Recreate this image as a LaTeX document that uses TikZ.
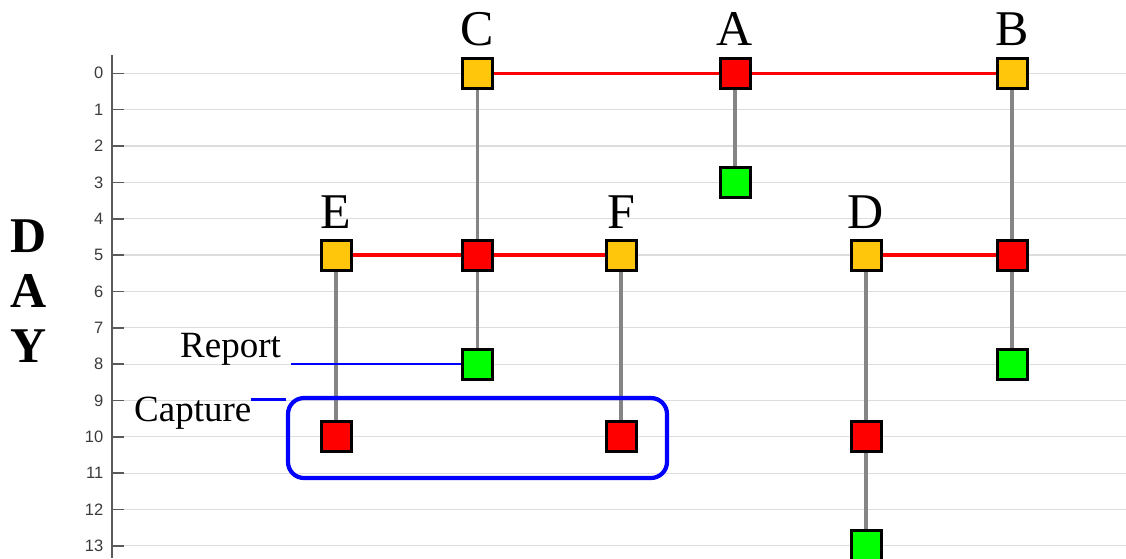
\documentclass[tikz,border=0pt]{standalone}
\usepackage{fontspec}
\setmainfont{Liberation Serif}
\newfontfamily\tickfont{Liberation Sans}
\definecolor{ylw}{HTML}{FFC60B}
\definecolor{rd}{HTML}{FF0000}
\definecolor{grn}{HTML}{00FF00}
\definecolor{gridc}{HTML}{DDDDDD}
\definecolor{axisc}{HTML}{5A5A5A}
\definecolor{tickc}{HTML}{3A3A3A}
\definecolor{linkc}{HTML}{858585}
\definecolor{blu}{HTML}{0000FF}
\begin{document}
\begin{tikzpicture}[x=1pt,y=-1pt,
  sq/.style={rectangle,draw=black,line width=3pt,minimum size=30pt,inner sep=0pt},
  yel/.style={sq,fill=ylw},
  red/.style={sq,fill=rd},
  gr/.style={sq,fill=grn},
  gridline/.style={draw=gridc,line width=1.2pt},
  axisline/.style={draw=axisc,line width=1.6pt},
  ticklbl/.style={anchor=east,inner sep=0pt,text=tickc,font=\tickfont\fontsize{16.5}{16.5}\selectfont},
  big/.style={anchor=base,inner sep=0pt,font=\fontsize{50}{50}\selectfont},
  bigb/.style={anchor=base,inner sep=0pt,font=\bfseries\fontsize{50}{50}\selectfont},
  note/.style={anchor=base west,inner sep=0pt,font=\fontsize{37}{37}\selectfont},
  redlink/.style={draw=rd,line width=3.2pt},
  graylink/.style={draw=linkc,line width=3.2pt},
  bluelink/.style={draw=blu,line width=2.5pt}]
\useasboundingbox (0,0) rectangle (1126,558);
\clip (0,0) rectangle (1126,558);
\def\dy{36.35}
\def\yz{73.3}
% grid and axis
\foreach \d in {0,...,13}{
  \pgfmathsetmacro{\yy}{\yz+\dy*\d}
  \draw[gridline] (124,\yy) -- (1126,\yy);
  \draw[axisline] (112,\yy) -- (124,\yy);
  \node[ticklbl] (t\d) at (103.5,\yy) {\d};
}
\draw[axisline] (112,55) -- (112,558);
% DAY label
\node[bigb] (dD) at (29,252) {D};
\node[bigb] (dA) at (29,307) {A};
\node[bigb] (dY) at (29,362) {Y};
% rows
\pgfmathsetmacro{\ya}{\yz}
\pgfmathsetmacro{\yb}{\yz+3*\dy}
\pgfmathsetmacro{\yc}{\yz+5*\dy}
\pgfmathsetmacro{\yd}{\yz+8*\dy}
\pgfmathsetmacro{\ye}{\yz+10*\dy}
\pgfmathsetmacro{\yf}{\yz+13*\dy}
\coordinate (pC0) at (477.5,\ya);
\coordinate (pA0) at (735,\ya);
\coordinate (pB0) at (1012,\ya);
\coordinate (pA3) at (735,\yb);
\coordinate (pE5) at (336,\yc);
\coordinate (pC5) at (477.5,\yc);
\coordinate (pF5) at (621,\yc);
\coordinate (pD5) at (866,\yc);
\coordinate (pB5) at (1012,\yc);
\coordinate (pC8) at (477.5,\yd);
\coordinate (pB8) at (1012,\yd);
\coordinate (pE10) at (336,\ye);
\coordinate (pF10) at (621,\ye);
\coordinate (pD10) at (866,\ye);
\coordinate (pD13) at (866,\yf);
% links (behind squares)
\draw[redlink] (pC0) -- (pA0) -- (pB0);
\draw[redlink] (pE5) -- (pC5) -- (pF5);
\draw[redlink] (pD5) -- (pB5);
\draw[graylink] (pC0) -- (pC5) -- (pC8);
\draw[graylink] (pA0) -- (pA3);
\draw[graylink] (pB0) -- (pB5) -- (pB8);
\draw[graylink] (pE5) -- (pE10);
\draw[graylink] (pF5) -- (pF10);
\draw[graylink] (pD5) -- (pD10) -- (pD13);
% squares
\node[yel] (C0) at (pC0) {};
\node[red] (A0) at (pA0) {};
\node[yel] (B0) at (pB0) {};
\node[gr] (A3) at (pA3) {};
\node[yel] (E5) at (pE5) {};
\node[red] (C5) at (pC5) {};
\node[yel] (F5) at (pF5) {};
\node[yel] (D5) at (pD5) {};
\node[red] (B5) at (pB5) {};
\node[gr] (C8) at (pC8) {};
\node[gr] (B8) at (pB8) {};
\node[red] (E10) at (pE10) {};
\node[red] (F10) at (pF10) {};
\node[red] (D10) at (pD10) {};
\node[gr] (D13) at (pD13) {};
% letters
\node[big] (lC) at (477,45.5) {C};
\node[big] (lA) at (735,45.5) {A};
\node[big] (lB) at (1012,45.5) {B};
\node[big] (lE) at (336,228) {E};
\node[big] (lF) at (621,228) {F};
\node[big] (lD) at (866,228) {D};
% capture box and notes
\node[draw=blu,line width=4.2pt,rounded corners=16pt,minimum width=379pt,minimum height=80pt,inner sep=0pt] (capbox) at (477.5,438) {};
\node[note] (rep) at (180,357) {Report};
\node[note] (cap) at (134,421) {Capture};
\coordinate (repstart) at (291,\yd);
\coordinate (capstart) at (251,399.5);
\draw[bluelink] (repstart) -- (repstart -| C8.west);
\draw[bluelink] (capstart) -- (capstart -| capbox.west);
\end{tikzpicture}
\end{document}
